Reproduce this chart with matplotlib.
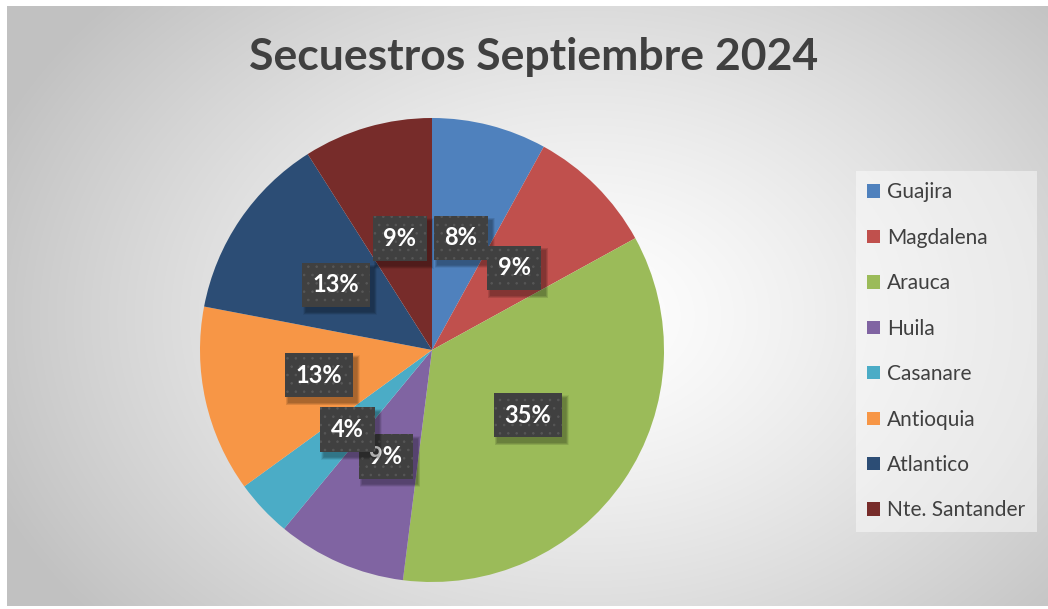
import matplotlib.pyplot as plt
from matplotlib.patches import Rectangle
import numpy as np

# Datos del grafico
departamentos = ["Guajira", "Magdalena", "Arauca", "Huila", "Casanare",
                 "Antioquia", "Atlantico", "Nte. Santander"]
porcentajes = [8, 9, 35, 9, 4, 13, 13, 9]
etiquetas = ["8%", "9%", "35%", "9%", "4%", "13%", "13%", "9%"]
colores = ["#4F81BD", "#C0504D", "#9BBB59", "#8064A2", "#4BACC6",
           "#F79646", "#2C4D75", "#772C2A"]

plt.rcParams["font.family"] = ["Lato", "DejaVu Sans"]
plt.rcParams["hatch.linewidth"] = 0.6

W, H = 1048, 609
fig = plt.figure(figsize=(W / 100, H / 100), dpi=100)

# fondo con degradado radial
bg = fig.add_axes([7 / W, 3 / H, 1041 / W, 600 / H])
yy, xx = np.mgrid[0:600, 0:1041]
d = np.sqrt(((xx - 580) / 640) ** 2 + ((yy - 310) / 470) ** 2)
grad = 1 - 0.24 * np.clip(d, 0, 1) ** 1.3
bg.imshow(np.dstack([grad, grad, grad]), aspect="auto", interpolation="bilinear")
bg.set_axis_off()

# torta
cx, cy, r = 432, 350, 232
ax = fig.add_axes([(cx - r) / W, (H - cy - r) / H, 2 * r / W, 2 * r / H])
wedges, _ = ax.pie(porcentajes, colors=colores, startangle=90, counterclock=False,
                   radius=1, wedgeprops=dict(linewidth=0))
ax.set_xlim(-1, 1)
ax.set_ylim(-1, 1)
ax.set_axis_off()

# etiquetas de datos
total = sum(porcentajes)
acum = 0
textos = []
for i, (v, lab) in enumerate(zip(porcentajes, etiquetas)):
    mid = 90 - 360 * (acum + v / 2) / total
    acum += v
    x = 0.5 * np.cos(np.radians(mid))
    y = 0.5 * np.sin(np.radians(mid))
    t = ax.text(x, y, lab, ha="center", va="center", fontsize=17, fontweight="bold",
                color="white", zorder=5 + i * 0.1,
                bbox=dict(boxstyle="square,pad=0.45", fc="#404040", ec="#575757",
                          hatch="..", lw=0))
    textos.append(t)

# sombra difusa de las cajas
fig.canvas.draw()
for i, t in enumerate(textos):
    bb = t.get_bbox_patch().get_window_extent()
    for k in range(6):
        grow = 6 - k
        ax.add_patch(Rectangle((bb.x0 + 4 - grow / 2, bb.y0 - 5 - grow / 2),
                               bb.width + grow, bb.height + grow,
                               transform=None, fc="black", ec="none",
                               alpha=0.06, zorder=4.95 + i * 0.1))

fig.text(534 / W, 1 - 57 / H, "Secuestros Septiembre 2024", ha="center", va="center",
         fontsize=32, fontweight="bold", color="#404040")

leg = fig.legend(wedges, departamentos, loc="upper left",
                 bbox_to_anchor=(856 / W, 1 - 171 / H), frameon=True,
                 fontsize=15, labelcolor="#404040", handlelength=0.6, handleheight=0.6,
                 handletextpad=0.35, labelspacing=1.22, borderpad=0.55,
                 borderaxespad=0, fancybox=False)
leg.get_frame().set_facecolor("white")
leg.get_frame().set_alpha(0.45)
leg.get_frame().set_edgecolor("none")

fig.savefig("out.png", dpi=100)
